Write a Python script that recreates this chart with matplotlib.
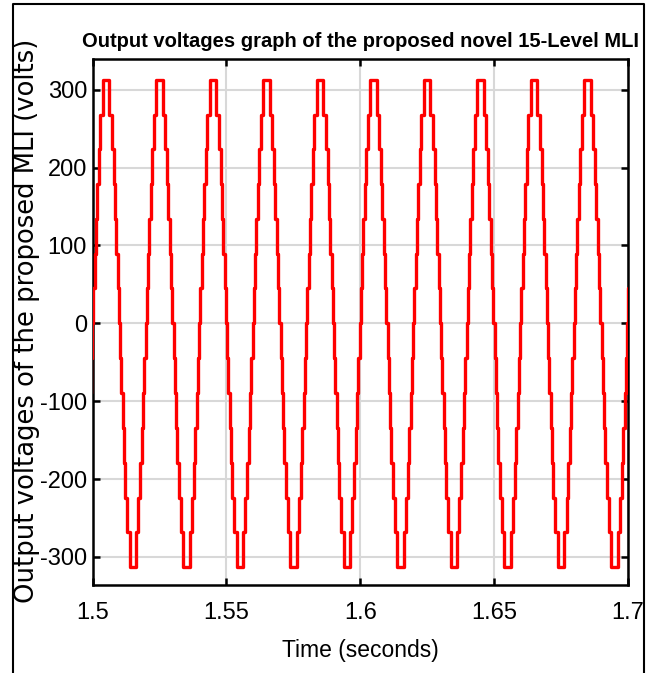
import matplotlib
matplotlib.use("Agg")
import matplotlib.pyplot as plt
from matplotlib.lines import Line2D
import numpy as np

# staircase: switching angles (deg) of the 7 positive steps
switch_deg = [4.1, 12.4, 20.9, 30.0, 39.8, 51.8, 68.2]
level_volts = [0, 45, 89, 134, 179, 224, 268, 313]
freq = 50.0
t_start = 1.5
n_cycles = 10

x_ticks = [1.5, 1.55, 1.6, 1.65, 1.7]
x_ticklabels = ["1.5", "1.55", "1.6", "1.65", "1.7"]
y_ticks = [-300, -200, -100, 0, 100, 200, 300]

plt.rcParams["axes.unicode_minus"] = False
sans = ["Liberation Sans", "DejaVu Sans"]

# build one period of the staircase
half_start = [0.0] + switch_deg + [180.0 - a for a in reversed(switch_deg)]
half_level = list(range(0, 8)) + list(range(6, -1, -1))
per_start = half_start + [180.0 + a for a in half_start]
per_level = [level_volts[k] for k in half_level] + [-level_volts[k] for k in half_level]

period = 1.0 / freq
t = []
v = []
# one extra cycle each side, the axes clip them
for c in range(-1, n_cycles + 1):
    for a, lv in zip(per_start, per_level):
        t.append(t_start + c * period + a / 360.0 * period)
        v.append(lv)
t = np.array(t)
v = np.array(v)

fig = plt.figure(figsize=(6.54, 6.73), dpi=100)
ax = fig.add_axes([0.1417, 0.1308, 0.8181, 0.7811])

ax.step(t, v, where="post", color="#ff0000", linewidth=2.4, zorder=3)

ax.set_xlim(1.5, 1.7)
ax.set_ylim(-336, 339)
ax.set_xticks(x_ticks)
ax.set_xticklabels(x_ticklabels)
ax.set_yticks(y_ticks)
ax.grid(True, color="#d8d8d8", linewidth=1.5)
ax.set_axisbelow(True)
for s in ax.spines.values():
    s.set_linewidth(1.8)
ax.tick_params(direction="in", length=5, width=1.8, top=True, right=True,
               labelsize=17)
ax.tick_params(axis="x", pad=12)
ax.tick_params(axis="y", pad=4)
for lab in ax.get_xticklabels() + ax.get_yticklabels():
    lab.set_family(sans)

ax.set_title("Output voltages graph of the proposed novel 15-Level MLI",
             fontsize=14.5, fontweight="bold", family=sans, pad=9)
ax.set_xlabel("Time (seconds)", fontsize=16.5, family=sans, labelpad=11)
ax.set_ylabel("Output voltages of the proposed MLI (volts)", fontsize=18.6,
              family=["DejaVu Sans"])
ax.yaxis.set_label_coords(-0.098, 0.503)

# outer frame of the figure
fx0, fx1, fy1 = 12.7 / 654, 644 / 654, 1 - 4 / 673
fig.add_artist(Line2D([fx0, fx0, fx1, fx1], [-0.02, fy1, fy1, -0.02],
                      transform=fig.transFigure, color="black", linewidth=1.5))

fig.savefig("out.png", dpi=100)
